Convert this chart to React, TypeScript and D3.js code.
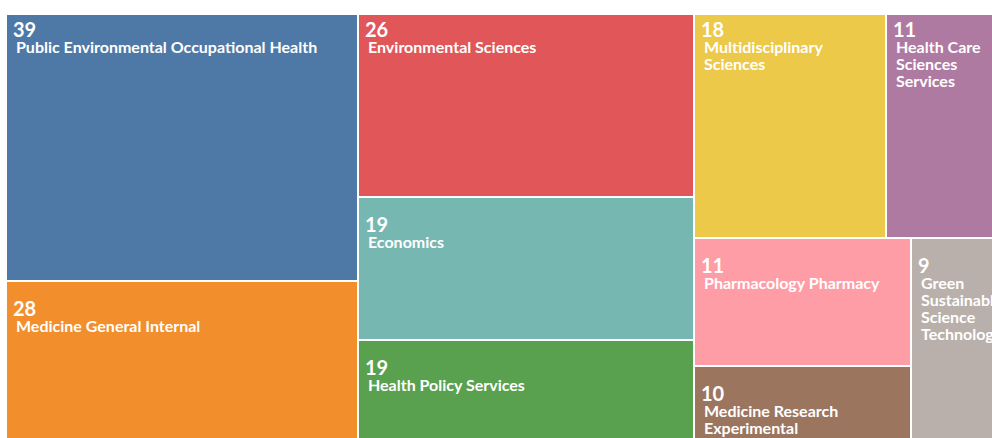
import React, { useMemo } from 'react';
import * as d3 from 'd3';

// categories and counts, in the order they were given
const categories = [
  'Public Environmental Occupational Health',
  'Medicine General Internal',
  'Environmental Sciences',
  'Economics',
  'Health Policy Services',
  'Multidisciplinary Sciences',
  'Health Care Sciences Services',
  'Pharmacology Pharmacy',
  'Medicine Research Experimental',
  'Green Sustainable Science Technology',
];
const counts = [39, 28, 26, 19, 19, 18, 11, 11, 10, 9];

const colors = d3.schemeTableau10;

const LABEL_FONT = 'bold 16px Lato';

let ctx: CanvasRenderingContext2D | null = null;
const measure = (s: string) => {
  if (!ctx) ctx = document.createElement('canvas').getContext('2d');
  ctx!.font = LABEL_FONT;
  return ctx!.measureText(s).width;
};

// break a label into lines that fit the tile
const wrap = (text: string, maxW: number) => {
  const words = text.split(' ');
  const lines: string[] = [];
  let cur = '';
  words.forEach(w => {
    const next = cur ? cur + ' ' + w : w;
    if (cur && measure(next) > maxW) {
      lines.push(cur);
      cur = w;
    } else cur = next;
  });
  if (cur) lines.push(cur);
  return lines;
};

type Leaf = { name: string; value: number; idx: number };

const width = 996;
const height = 478;

export default function App() {
  const leaves = useMemo(() => {
    const data = {
      name: 'root',
      children: categories.map((c, i) => ({ name: c, value: counts[i], idx: i })),
    };
    const root = d3
      .hierarchy<any>(data)
      .sum(d => d.value || 0)
      .sort((a, b) => (b.value || 0) - (a.value || 0));

    d3.treemap<any>()
      .tile(d3.treemapSquarify)
      .size([width, height])
      .paddingInner(2)
      .round(true)(root);

    return root.leaves() as d3.HierarchyRectangularNode<Leaf>[];
  }, []);

  return (
    <div style={{ position: 'fixed', left: 0, top: 0, width: 992, height: 438, overflow: 'hidden', background: '#fff' }}>
      <svg width={1010} height={490} style={{ position: 'absolute', left: 0, top: 0 }}>
        <defs>
          <clipPath id="view">
            <rect x={0} y={15} width={1010} height={480} />
          </clipPath>
        </defs>
        <g clipPath="url(#view)">
          <g transform="translate(7,3)">
            {leaves.map(d => {
              const w = d.x1 - d.x0;
              const lines = wrap(d.data.name, w - 20);
              return (
                <g key={d.data.name} transform={`translate(${d.x0},${d.y0})`}>
                  <rect width={w} height={d.y1 - d.y0} fill={colors[d.data.idx]} />
                  <text x={6} y={34} fill="#fff" style={{ font: 'bold 20px Lato' }}>
                    {d.data.value}
                  </text>
                  <text x={9} y={50} fill="#fff" style={{ font: LABEL_FONT }}>
                    {lines.map((l, i) => (
                      <tspan key={i} x={9} y={50 + i * 17}>
                        {l}
                      </tspan>
                    ))}
                  </text>
                </g>
              );
            })}
          </g>
        </g>
      </svg>
    </div>
  );
}
